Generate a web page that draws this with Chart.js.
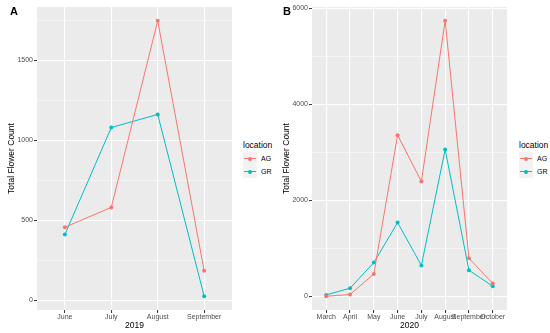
<!DOCTYPE html>
<html>
<head>
<meta charset="utf-8">
<script src="https://cdn.jsdelivr.net/npm/chart.js@4.4.1/dist/chart.umd.min.js"></script>
<style>
    body { margin: 0; width: 550px; height: 333px; background: #fff; position: relative; overflow: hidden;
           font-family: "Liberation Sans", Arial, sans-serif; }
    .panel { position: absolute; top: 0; width: 240px; height: 333px; }
    .tag { position: absolute; top: 5px; font-weight: bold; font-size: 11px; color: #000; }
    .legend { position: absolute; font-size: 7px; color: #000; }
    .legend .ltitle { font-size: 8.5px; height: 12px; line-height: 12px; margin-bottom: 1px; }
    .legend .item { height: 13px; display: flex; align-items: center; }
    .legend .key { width: 14px; height: 13px; background: #f2f2f2; position: relative; margin-right: 4px; }
    .legend .key i { position: absolute; left: 1px; right: 1px; top: 6px; height: 1px; }
    .legend .key b { position: absolute; left: 5px; top: 4.5px; width: 4px; height: 4px; border-radius: 50%; }
</style>
</head>
<body>
<div class="panel" style="left:0"><canvas id="chartA" width="240" height="333"></canvas></div>
<div class="panel" style="left:275px"><canvas id="chartB" width="240" height="333"></canvas></div>
<div class="tag" style="left:10px">A</div>
<div class="tag" style="left:283px">B</div>
<div class="legend" id="legendA" style="left:243px;top:139px"></div>
<div class="legend" id="legendB" style="left:519px;top:139px"></div>

<script>
'use strict';

// 2019
const months2019 = ["June", "July", "August", "September"];
const ag2019 = [458, 582, 1748, 186];
const gr2019 = [412, 1081, 1163, 27];
const yTicks2019 = [0, 500, 1000, 1500];

// 2020
const months2020 = ["March", "April", "May", "June", "July", "August", "September", "October"];
const ag2020 = [0, 35, 465, 3355, 2390, 5737, 792, 265];
const gr2020 = [28, 167, 700, 1535, 640, 3056, 542, 208];
const yTicks2020 = [0, 2000, 4000, 6000];

const locations = ["AG", "GR"];
const colors = ["#F8766D", "#00BFC4"];

// 背景(灰色パネル)
const panelBg = {
    id: 'panelBg',
    beforeDraw(chart) {
        const {ctx, chartArea: a} = chart;
        ctx.save();
        ctx.fillStyle = '#EBEBEB';
        ctx.fillRect(a.left, a.top, a.right - a.left, a.bottom - a.top);
        ctx.restore();
    }
};

function makePanel(id, cats, series, majors, xTitle) {
    const all = series.flat();
    const lo = Math.min(...all), hi = Math.max(...all);
    const yMin = lo - 0.05 * (hi - lo);
    const yMax = hi + 0.05 * (hi - lo);
    const step = majors[1] - majors[0];
    // minor grid = midpoints
    const minors = [];
    for (let v = majors[0] - step / 2; v <= yMax; v += step) {
        if (v >= yMin) minors.push(v);
    }
    const yVals = majors.concat(minors).sort((a, b) => a - b);
    const isMajor = v => majors.includes(v);

    new Chart(document.getElementById(id), {
        type: 'line',
        data: {
            datasets: series.map((s, k) => ({
                label: locations[k],
                data: s.map((v, i) => ({x: i, y: v})),
                borderColor: colors[k],
                backgroundColor: colors[k],
                borderWidth: 1,
                pointRadius: 2,
                pointBorderWidth: 0,
                tension: 0
            }))
        },
        options: {
            responsive: false,
            animation: false,
            layout: {padding: {top: 7, right: 8, left: 0, bottom: 0}},
            plugins: {legend: {display: false}, tooltip: {enabled: false}},
            scales: {
                x: {
                    type: 'linear',
                    min: -0.6,
                    max: cats.length - 1 + 0.6,
                    afterBuildTicks: s => { s.ticks = cats.map((c, i) => ({value: i})); },
                    afterFit: s => { s.height = 23; },
                    border: {display: false},
                    grid: {color: '#fff', lineWidth: 1.1, tickLength: 3, tickColor: '#333', tickWidth: 1},
                    ticks: {
                        autoSkip: false, maxRotation: 0, padding: 0,
                        color: '#4D4D4D', font: {size: 7, family: 'Liberation Sans'},
                        callback: v => cats[v]
                    },
                    title: {display: true, text: xTitle, color: '#000',
                            font: {size: 8.5, family: 'Liberation Sans'}, padding: {top: 0, bottom: 2}}
                },
                y: {
                    min: yMin,
                    max: yMax,
                    afterBuildTicks: s => { s.ticks = yVals.map(v => ({value: v})); },
                    afterFit: s => { s.width = 37; },
                    border: {display: false},
                    grid: {
                        color: '#fff',
                        lineWidth: c => isMajor(c.tick.value) ? 1.1 : 0.5,
                        tickLength: 3,
                        tickColor: c => isMajor(c.tick.value) ? '#333' : 'rgba(0,0,0,0)',
                        tickWidth: 1
                    },
                    ticks: {
                        padding: 1,
                        color: '#4D4D4D', font: {size: 7, family: 'Liberation Sans'},
                        callback: v => isMajor(v) ? String(v) : ''
                    },
                    title: {display: true, text: 'Total Flower Count', color: '#000',
                            font: {size: 8.5, family: 'Liberation Sans'}, padding: {top: 7, bottom: 0}}
                }
            }
        },
        plugins: [panelBg]
    });
}

function makeLegend(id) {
    const el = document.getElementById(id);
    let html = '<div class="ltitle">location</div>';
    locations.forEach((name, k) => {
        html += '<div class="item"><span class="key"><i style="background:' + colors[k] + '"></i>' +
                '<b style="background:' + colors[k] + '"></b></span>' + name + '</div>';
    });
    el.innerHTML = html;
}

makePanel('chartA', months2019, [ag2019, gr2019], yTicks2019, '2019');
makePanel('chartB', months2020, [ag2020, gr2020], yTicks2020, '2020');
makeLegend('legendA');
makeLegend('legendB');
</script>
</body>
</html>
